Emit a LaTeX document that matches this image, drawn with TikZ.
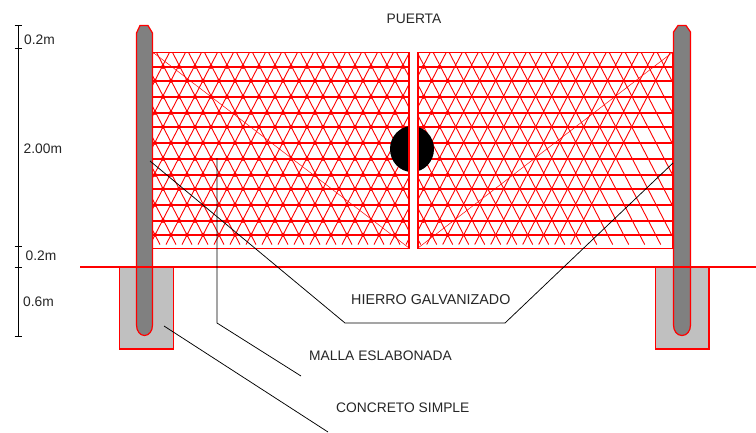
\documentclass[tikz,border=0pt]{standalone}
\usepackage{fontspec}
\setmainfont{Liberation Sans}
\definecolor{meshred}{RGB}{255,0,0}
\definecolor{postgray}{RGB}{128,128,128}
\definecolor{footgray}{RGB}{192,192,192}
\tikzset{
  meshline/.style={draw=meshred,line width=0.9pt},
  meshfine/.style={draw=meshred,line width=0.5pt},
  frame/.style={draw=meshred,line width=1.3pt},
  post/.style={draw=meshred,fill=postgray,line width=1.2pt},
  footing/.style={draw=meshred,fill=footgray,line width=1.4pt},
  leader/.style={draw=black,line width=0.75pt},
  dim/.style={draw=black,line width=0.9pt},
  lbl/.style={font=\fontsize{13.8}{15}\selectfont,inner sep=0pt,text=black!85}
}
\newcommand{\panel}[5]{% x1,x2,phase,fineA,fineB
  \begin{scope}
    \clip (#1,52) rectangle (#2,248);
    \foreach \k in {-16,...,32} {
      \pgfmathsetmacro{\xa}{#3+16*\k}
      \draw[meshline] (\xa,49.55) -- ++(101,195);
      \draw[meshline] (\xa,49.55) -- ++(-101,195);
    }
    \foreach \i in {0,...,11} {
      \pgfmathsetmacro{\ya}{2*round((65+15.45*\i)/2)}
      \pgfmathsetmacro{\yb}{\ya+1.7}
      \pgfmathsetmacro{\yy}{\ya+0.85}
      \fill[meshred] (#1,\ya) rectangle (#2,\yb);
      \foreach \k in {-1,...,17} {
        \pgfmathsetmacro{\xn}{#3+16*\k+8*(1+mod(\i,2))}
        \fill[meshred] (\xn,\yy) circle[radius=2pt];
      }
    }
    \draw[meshfine] (#4,52) -- (#5,248);
  \end{scope}
}
\begin{document}
\begin{tikzpicture}[x=1pt,y=-1pt]
\useasboundingbox[fill=white] (0,0) rectangle (756,432);

% mesh panels
\panel{152.5}{409}{155}{152.5}{409}
\panel{418}{673}{159.7}{673}{418}

% latch
\fill[black] (412,149) ellipse (22 and 23);
\fill[white] (409,120) rectangle (418,180);
\draw[frame] (152.5,52.8) rectangle (409,248.8);
\draw[frame] (418,52.8) rectangle (673,248.8);

% footings
\draw[footing] (119.5,267) rectangle (173.5,348.8);
\draw[footing] (655.5,267) rectangle (709,348.8);

% posts
\draw[post] (136.5,33) -- (140,25.5) -- (148,25.5) -- (152.5,33) -- (152.5,325)
  .. controls (152.5,331) and (149,335.5) .. (144.5,335.5)
  .. controls (140,335.5) and (136.5,331) .. (136.5,325) -- cycle;
\draw[post] (673.5,32) -- (678,25.5) -- (686,25.5) -- (690.5,32) -- (690.5,325)
  .. controls (690.5,331) and (687,335.5) .. (682,335.5)
  .. controls (677,335.5) and (673.5,331) .. (673.5,325) -- cycle;

% ground
\fill[meshred] (80,266) rectangle (756,267.7);

% dimension chain
\coordinate (d0) at (18,25);
\coordinate (d1) at (18,48);
\coordinate (d2) at (18,246);
\coordinate (d3) at (18,267);
\coordinate (d4) at (18,336);
\draw[dim] (d0) -- (d4);
\foreach \c in {d0,d1,d2,d3,d4} \draw[dim] ([xshift=-3.5pt]\c) -- ([xshift=3.5pt]\c);

% labels
\node[lbl,anchor=west] (t1) at (24,40) {0.2m};
\node[lbl,anchor=west] (t2) at (23.5,149) {2.00m};
\node[lbl,anchor=west] (t3) at (25.5,256) {0.2m};
\node[lbl,anchor=west] (t4) at (23,302) {0.6m};
\node[lbl] (puerta) at (414,19) {PUERTA};
\node[lbl,anchor=west,font=\fontsize{14.3}{15}\selectfont] (hierro) at (351,300) {HIERRO GALVANIZADO};
\node[lbl,anchor=west] (malla) at (309,356) {MALLA ESLABONADA};
\node[lbl,anchor=west] (concreto) at (336,408) {CONCRETO SIMPLE};

% leaders
\coordinate (ha) at (150,161);
\coordinate (hb) at (345,323);
\coordinate (hc) at (505,323);
\coordinate (hd) at (673,163);
\draw[leader] (ha) -- (hb) -- (hc) -- (hd);
\coordinate (ma) at (217,158);
\coordinate (mb) at (217,323);
\coordinate (mc) at (301,376);
\draw[leader] (ma) -- (mb) -- (mc);
\coordinate (ca) at (164,326);
\coordinate (cb) at (328,432);
\draw[leader] (ca) -- (cb);
\end{tikzpicture}
\end{document}
